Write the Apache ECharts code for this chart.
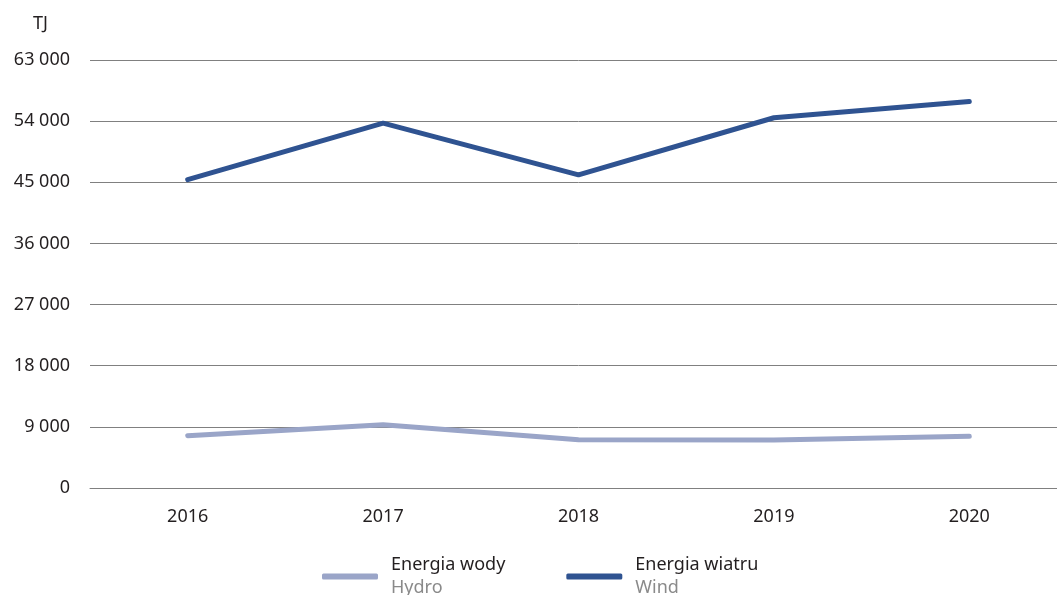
<!DOCTYPE html>
<html>
<head>
<meta charset="utf-8">
<script src="https://cdn.jsdelivr.net/npm/echarts@6/dist/echarts.min.js"></script>
<style>
html,body{margin:0;padding:0;background:#fff;overflow:hidden;}
#chart{width:1067px;height:595px;}
</style>
</head>
<body>
<div id="chart"></div>
<script>
const categories = ['2016', '2017', '2018', '2019', '2020'];
const hydroValues = [7700, 9300, 7100, 7050, 7600];
const windValues = [45400, 53700, 46100, 54500, 56900];
const seriesNames = ['Energia wody', 'Energia wiatru'];
const seriesNamesEn = ['Hydro', 'Wind'];
const unitLabel = 'TJ';

const FONT = '"Noto Sans", sans-serif';
const chart = echarts.init(document.getElementById('chart'));
const enMap = {};
seriesNames.forEach((n, i) => enMap[n] = seriesNamesEn[i]);

chart.setOption({
  animation: false,
  backgroundColor: '#ffffff',
  title: {
    text: unitLabel,
    left: 28, top: 10,
    textStyle: { fontFamily: FONT, fontSize: 18, fontWeight: 'normal', color: '#231f20' }
  },
  grid: { left: 90, right: 0, top: 60, bottom: 107, containLabel: false },
  legend: {
    data: seriesNames,
    bottom: -2,
    left: 322,
    padding: 0,
    itemWidth: 56,
    itemHeight: 6,
    itemGap: 61,
    icon: 'roundRect',
    formatter: name => '{a|' + name + '}\n{b|' + enMap[name] + '}',
    textStyle: {
      rich: {
        a: { fontFamily: FONT, fontSize: 18, color: '#231f20', lineHeight: 23, padding: [0, 0, 0, 8] },
        b: { fontFamily: FONT, fontSize: 18, color: '#8a8a8a', lineHeight: 23, padding: [0, 0, 0, 8] }
      }
    }
  },
  xAxis: {
    type: 'category',
    data: categories,
    boundaryGap: true,
    axisLine: { show: true, lineStyle: { color: '#808080', width: 1 } },
    axisTick: { show: false },
    axisLabel: { fontFamily: FONT, fontSize: 18, color: '#231f20', margin: 20 }
  },
  yAxis: {
    type: 'value',
    min: 0, max: 63000, interval: 9000,
    axisLine: { show: false },
    axisTick: { show: false },
    splitLine: { lineStyle: { color: '#808080', width: 1 } },
    axisLabel: {
      fontFamily: FONT, fontSize: 18, color: '#231f20', margin: 20,
      formatter: v => String(v).replace(/\B(?=(\d{3})+(?!\d))/g, ' ')
    }
  },
  series: [
    {
      name: seriesNames[0], type: 'line', data: hydroValues,
      symbol: 'none', color: '#9aa5c8',
      lineStyle: { width: 5, color: '#9aa5c8', cap: 'round' }
    },
    {
      name: seriesNames[1], type: 'line', data: windValues,
      symbol: 'none', color: '#2f5391',
      lineStyle: { width: 5, color: '#2f5391', cap: 'round' }
    }
  ]
});
</script>
</body>
</html>
